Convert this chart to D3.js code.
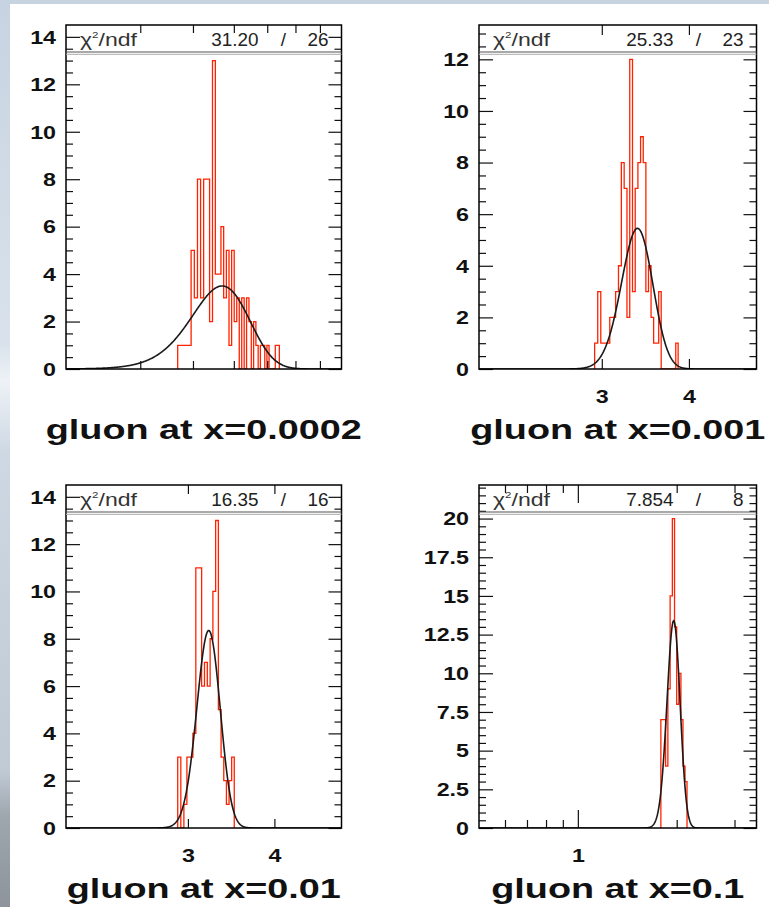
<!DOCTYPE html>
<html>
<head>
<meta charset="utf-8">
<script src="https://cdn.jsdelivr.net/npm/d3@7"></script>
<style>
  html, body { margin: 0; padding: 0; background: #fff; }
  svg { display: block; }
</style>
</head>
<body>
<div id="chart"></div>
<script>
const W = 769, H = 907;

// ---- data ----
const titles = ['gluon at x=0.0002', 'gluon at x=0.001', 'gluon at x=0.01', 'gluon at x=0.1'];
const chi2Values = ['31.20', '25.33', '16.35', '7.854'];
const ndfValues = ['26', '23', '16', '8'];

const xDomains = [[2, 9], [2, 5], [2, 5], [0.5, 3.5]];
const yMaxes = [14.5, 13.33, 14.5, 22.17];
const yMajorSteps = [2, 2, 2, 2.5];
const yMinorStep = 0.5;
const xLabelTicks = [[], [3, 4], [3, 4], [1]];
const xSmallTicks = [[3, 4, 5, 6, 7, 8], [], [], [0.6, 0.7, 0.8, 0.9, 2, 3]];

// 100 bins over each x range; counts start at bin index firstBins[i]
const binWidths = [0.07, 0.03, 0.03, 0.03];
const firstBins = [24, 31, 30, 43];
const counts1 = [1, 1, 1, 1, 5, 3, 8, 3, 8, 8, 2, 13, 4, 4, 6, 3, 5, 1, 5, 2,
  3, 0, 3, 0, 3, 2, 0, 2, 1, 0, 1, 1, 0, 1, 0, 0, 0, 1, 1];
const counts2 = [1, 3, 1, 1, 1, 2, 2, 3, 4, 8, 7, 2, 12, 3, 7, 8, 9, 8, 3, 4,
  2, 1, 1, 3, 0, 0, 0, 0, 0, 0, 1];
const counts3 = [3, 0, 1, 3, 3, 4, 11, 11, 6, 7, 6, 8, 10, 13, 5, 3, 2, 1, 2, 3];
const counts4 = [7, 7, 4, 9, 15, 20, 13, 8, 10, 7, 4, 3];
const allCounts = [counts1, counts2, counts3, counts4];

// gaussian fit parameters
const fitConstants = [3.5, 5.45, 8.35, 13.4];
const fitMeans = [4.69, 3.375, 3.215, 1.958];
const fitSigmas = [0.74, 0.175, 0.125, 0.09];

// ---- layout ----
const frames = [
  { x0: 66, x1: 341.5, y0: 25, y1: 369 },
  { x0: 479, x1: 756.5, y0: 25, y1: 369 },
  { x0: 66, x1: 341.5, y0: 485, y1: 828 },
  { x0: 479, x1: 756.5, y0: 485, y1: 828 }
];
const majorXLen = [0, 10, 9, 18];
const SX = 1.33; // the picture is stretched sideways

const svg = d3.select('#chart').append('svg')
  .attr('width', W).attr('height', H);

const defs = svg.append('defs');
const grad = defs.append('linearGradient').attr('id', 'bg')
  .attr('x1', 0).attr('y1', 0).attr('x2', 0).attr('y2', 1);
[[0, '#c7d3e1'], [0.38, '#d9e2ec'], [0.42, '#eef2f6'], [0.5, '#cdd8e4'],
 [0.85, '#c0cad5'], [0.9, '#9ea6ae'], [1, '#8d949b']].forEach(s => {
  grad.append('stop').attr('offset', s[0]).attr('stop-color', s[1]);
});
svg.append('rect').attr('width', W).attr('height', H).attr('fill', 'url(#bg)');
svg.append('rect').attr('x', 10).attr('y', 4).attr('width', W - 10).attr('height', H - 4)
  .attr('fill', '#fff');

frames.forEach((f, i) => {
  const x = d3.scaleLog().domain(xDomains[i]).range([f.x0, f.x1]);
  const y = d3.scaleLinear().domain([0, yMaxes[i]]).range([f.y1, f.y0]);
  const g = svg.append('g');

  defs.append('clipPath').attr('id', 'clip' + i)
    .append('rect').attr('x', f.x0).attr('y', f.y0)
    .attr('width', f.x1 - f.x0).attr('height', f.y1 - f.y0);

  // histogram outline
  const w = binWidths[i];
  const pts = [];
  allCounts[i].forEach((c, j) => {
    const lo = xDomains[i][0] + (firstBins[i] + j) * w;
    pts.push([lo, c], [lo + w, c]);
  });
  pts.unshift([pts[0][0], 0]);
  pts.push([pts[pts.length - 1][0], 0]);
  const line = d3.line().x(d => x(d[0])).y(d => y(d[1]));
  g.append('path')
    .attr('d', line(pts))
    .attr('fill', 'none')
    .attr('stroke', '#ff2200')
    .attr('stroke-width', 1.3)
    .attr('clip-path', 'url(#clip' + i + ')');

  // fit curve
  const [a, b] = xDomains[i];
  const fitPts = d3.range(0, 601).map(k => {
    const xv = a * Math.pow(b / a, k / 600);
    const z = (xv - fitMeans[i]) / fitSigmas[i];
    return [xv, fitConstants[i] * Math.exp(-0.5 * z * z)];
  });
  g.append('path')
    .attr('d', line(fitPts))
    .attr('fill', 'none')
    .attr('stroke', '#1a1a1a')
    .attr('stroke-width', 1.6)
    .attr('clip-path', 'url(#clip' + i + ')');

  // axes ticks (ROOT style: inside the frame on all four sides)
  const yMajor = d3.range(0, yMaxes[i] + 1e-9, yMajorSteps[i]);
  const yMinor = d3.range(0, yMaxes[i], yMinorStep)
    .filter(v => !yMajor.some(m => Math.abs(m - v) < 1e-9));
  const clean = sel => sel.select('.domain').remove();
  const tickStyle = sel => sel.selectAll('line').attr('stroke', '#111').attr('stroke-width', 1.2);

  g.append('g').attr('transform', `translate(${f.x0},0)`)
    .call(d3.axisLeft(y).tickValues(yMinor).tickSize(-7).tickFormat(''))
    .call(clean).call(tickStyle);
  g.append('g').attr('transform', `translate(${f.x1},0)`)
    .call(d3.axisRight(y).tickValues(yMinor).tickSize(-7).tickFormat(''))
    .call(clean).call(tickStyle);
  g.append('g').attr('transform', `translate(${f.x1},0)`)
    .call(d3.axisRight(y).tickValues(yMajor).tickSize(-13).tickFormat(''))
    .call(clean).call(tickStyle);
  g.append('g').attr('transform', `translate(${f.x0},0)`)
    .call(d3.axisLeft(y).tickValues(yMajor).tickSize(-14).tickFormat(d => String(d)))
    .call(clean).call(tickStyle)
    .call(sel => sel.selectAll('text')
      .attr('x', null).attr('dy', '0.36em')
      .attr('transform', `translate(-10,0) scale(${SX},1)`)
      .attr('font-family', '"Liberation Sans", Arial, sans-serif')
      .attr('font-weight', 'bold').attr('font-size', 17.5).attr('fill', '#111'));

  if (xSmallTicks[i].length) {
    g.append('g').attr('transform', `translate(0,${f.y1})`)
      .call(d3.axisBottom(x).tickValues(xSmallTicks[i]).tickSize(-8).tickFormat(''))
      .call(clean).call(tickStyle);
    g.append('g').attr('transform', `translate(0,${f.y0})`)
      .call(d3.axisTop(x).tickValues(xSmallTicks[i]).tickSize(-8).tickFormat(''))
      .call(clean).call(tickStyle);
  }
  if (xLabelTicks[i].length) {
    g.append('g').attr('transform', `translate(0,${f.y1})`)
      .call(d3.axisBottom(x).tickValues(xLabelTicks[i]).tickSize(-majorXLen[i]).tickFormat(d => String(d)))
      .call(clean).call(tickStyle)
      .call(sel => sel.selectAll('text')
        .attr('y', 34).attr('dy', null)
        .attr('transform', `scale(${SX},1)`)
        .attr('font-family', '"Liberation Sans", Arial, sans-serif')
        .attr('font-weight', 'bold').attr('font-size', 17.5).attr('fill', '#111'));
    g.append('g').attr('transform', `translate(0,${f.y0})`)
      .call(d3.axisTop(x).tickValues(xLabelTicks[i]).tickSize(-majorXLen[i]).tickFormat(''))
      .call(clean).call(tickStyle);
  }

  // frame
  g.append('rect')
    .attr('x', f.x0).attr('y', f.y0)
    .attr('width', f.x1 - f.x0).attr('height', f.y1 - f.y0)
    .attr('fill', 'none').attr('stroke', '#000').attr('stroke-width', 1.5);

  // stats box
  g.append('line').attr('x1', f.x0).attr('x2', f.x1)
    .attr('y1', f.y0 + 27).attr('y2', f.y0 + 27)
    .attr('stroke', '#555').attr('stroke-width', 1.2);
  g.append('line').attr('x1', f.x0).attr('x2', f.x1)
    .attr('y1', f.y0 + 29.3).attr('y2', f.y0 + 29.3)
    .attr('stroke', '#aaa').attr('stroke-width', 1);

  const chi = g.append('text')
    .attr('transform', `translate(${f.x0 + 14},${f.y0 + 21}) scale(1.28,1)`)
    .attr('font-family', '"Liberation Sans", Arial, sans-serif')
    .attr('font-size', 18).attr('fill', '#333');
  chi.append('tspan').text('χ');
  chi.append('tspan').attr('font-size', 9).attr('dy', -8).text('2');
  chi.append('tspan').attr('dy', 8).text('/ndf');

  const num = (txt, xpos, anchor) => g.append('text')
    .attr('transform', `translate(${xpos},${f.y0 + 21}) scale(1.08,1)`)
    .attr('text-anchor', anchor)
    .attr('font-family', '"Liberation Sans", Arial, sans-serif')
    .attr('font-size', 17.5).attr('fill', '#222')
    .text(txt);
  num(chi2Values[i], f.x1 - 83, 'end');
  num('/', f.x1 - 58, 'middle');
  num(ndfValues[i], f.x1 - 13, 'end');

  // title under the panel
  g.append('text')
    .attr('transform', `translate(${(f.x0 + f.x1) / 2},${f.y1 + 70}) scale(1.35,1)`)
    .attr('text-anchor', 'middle')
    .attr('font-family', '"Liberation Sans", Arial, sans-serif')
    .attr('font-weight', 'bold').attr('font-size', 28).attr('fill', '#111')
    .text(titles[i]);
});
</script>
</body>
</html>
